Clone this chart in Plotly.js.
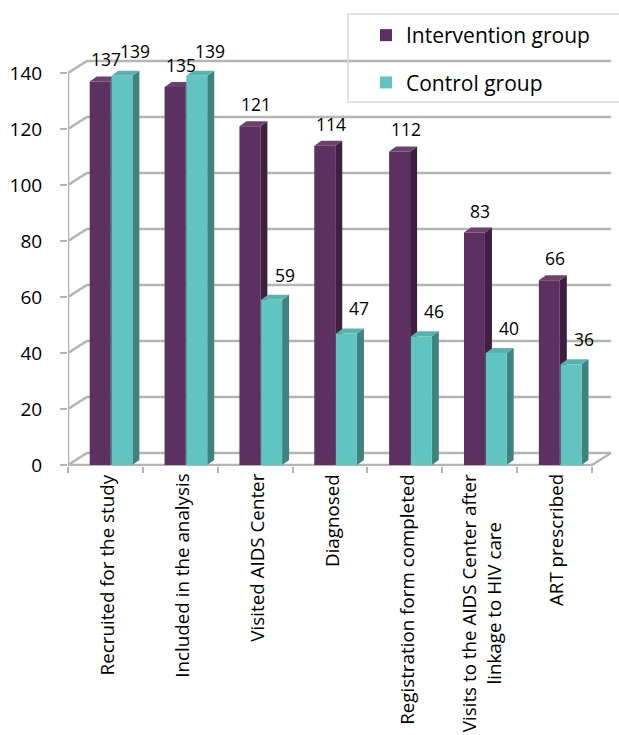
<!DOCTYPE html>
<html>
<head>
<meta charset="utf-8">
<script src="https://cdn.plot.ly/plotly-3.0.1.min.js"></script>
<style>
  html, body { margin: 0; padding: 0; background: #fff; }
  #chart { width: 619px; height: 735px; }
</style>
</head>
<body>
<div id="chart"></div>
<script>
// Category labels and counts per group
const categories = [
  'Recruited for the study',
  'Included in the analysis',
  'Visited AIDS Center',
  'Diagnosed',
  'Registration form completed',
  'Visits to the AIDS Center after<br>linkage to HIV care',
  'ART prescribed'
];
const intervention = [137, 135, 121, 114, 112, 83, 66];
const control = [139, 139, 59, 47, 46, 40, 36];
const yTicks = [0, 20, 40, 60, 80, 100, 120, 140];
const seriesNames = ['Intervention group', 'Control group'];

const FONT = '"Open Sans", sans-serif';

// Look of each series: front face, side face, top face
const styles = [
  { front: '#5C3060', side: '#3D1F3F', top: '#6E4070', offset: 0.29, labelDx: 6, labelDy: 22 },
  { front: '#62C4C0', side: '#3E8380', top: '#57B3AF', offset: 0.58, labelDx: 13, labelDy: 25 }
];
const BAR_W = 0.28;

// Plot geometry
const W = 619, H = 735;
const M = { l: 68, r: 4, t: 20, b: 269 };
const plotW = W - M.l - M.r;
const plotH = H - M.t - M.b;
const pxPerCat = 524 / categories.length;   // px per category slot
const pxPerUnit = 2.8;                      // px per count
const xMax = plotW / pxPerCat;
const yMin = -1 / pxPerUnit;
const yMax = yMin + plotH / pxPerUnit;

// Depth offsets for the pseudo-3D look (in data units)
const barDx = 7 / pxPerCat, barDy = 5 / pxPerUnit;
const wallDx = 19 / pxPerCat, wallDy = 12 / pxPerUnit;
const nCat = categories.length;
const idx = categories.map((_, i) => i);
const gridColor = '#B5B5B5';

const shapes = [];
// back-wall gridlines with their diagonal ties to the value axis
yTicks.forEach(v => {
  shapes.push({
    type: 'path', xref: 'x', yref: 'y', layer: 'below',
    path: `M0,${v} L${wallDx},${v + wallDy} L${nCat + wallDx},${v + wallDy}`,
    line: { color: gridColor, width: 2.5 }
  });
});
// floor front and right edges, value axis line
shapes.push({
  type: 'path', xref: 'x', yref: 'y', layer: 'below',
  path: `M0,0 L${nCat},0 L${nCat + wallDx},${wallDy}`,
  line: { color: gridColor, width: 2.5 }
});
shapes.push({
  type: 'line', xref: 'x', yref: 'y', layer: 'below',
  x0: 0, x1: 0, y0: 0, y1: yTicks[yTicks.length - 1],
  line: { color: gridColor, width: 2.5 }
});

// side and top faces of every bar (front faces are the bar traces)
[intervention, control].forEach((vals, s) => {
  const st = styles[s];
  vals.forEach((v, i) => {
    const x0 = i + st.offset, x1 = x0 + BAR_W;
    shapes.push({
      type: 'path', xref: 'x', yref: 'y', layer: 'below',
      path: `M${x1},0 L${x1 + barDx},${barDy} L${x1 + barDx},${v + barDy} L${x1},${v} Z`,
      fillcolor: st.side, line: { width: 0 }
    });
    shapes.push({
      type: 'path', xref: 'x', yref: 'y', layer: 'below',
      path: `M${x0},${v} L${x0 + barDx},${v + barDy} L${x1 + barDx},${v + barDy} L${x1},${v} Z`,
      fillcolor: st.top, line: { width: 0 }
    });
  });
});

// legend frame
shapes.push({
  type: 'rect', xref: 'paper', yref: 'paper',
  x0: (348 - M.l) / plotW, x1: (625 - M.l) / plotW,
  y0: 1 - (102 - M.t) / plotH, y1: 1 - (14 - M.t) / plotH,
  line: { color: '#D9D9D9', width: 1.5 }, fillcolor: 'rgba(0,0,0,0)'
});

const annotations = [];
// value labels above the bars
[intervention, control].forEach((vals, s) => {
  const st = styles[s];
  vals.forEach((v, i) => {
    annotations.push({
      xref: 'x', yref: 'y', x: i + st.offset + BAR_W / 2, y: v,
      text: String(v), showarrow: false,
      xanchor: 'center', yanchor: 'middle',
      xshift: st.labelDx, yshift: st.labelDy,
      font: { family: FONT, size: 17.5, color: '#000' }
    });
  });
});
// rotated category labels
categories.forEach((c, i) => {
  annotations.push({
    xref: 'x', yref: 'paper', x: i + 0.52, y: 0,
    text: c, showarrow: false, textangle: -90,
    xanchor: 'center', yanchor: 'top', yshift: -6, align: 'center',
    font: { family: FONT, size: 18.8, color: '#000' }
  });
});

const traces = [intervention, control].map((vals, s) => ({
  type: 'bar',
  name: seriesNames[s],
  legendgroup: 'g' + s,
  x: idx,
  y: vals,
  width: BAR_W,
  offset: styles[s].offset,
  marker: { color: styles[s].front, line: { width: 0 } },
  hoverinfo: 'skip'
}));

const layout = {
  width: W, height: H,
  margin: M,
  paper_bgcolor: '#fff', plot_bgcolor: '#fff',
  font: { family: FONT, size: 17, color: '#000' },
  showlegend: true,
  legend: {
    x: (366 - M.l) / plotW, xanchor: 'left',
    y: 1 - (15 - M.t) / plotH, yanchor: 'top',
    bgcolor: 'rgba(0,0,0,0)', borderwidth: 0,
    tracegroupgap: 17,
    font: { family: FONT, size: 21, color: '#000' }
  },
  xaxis: {
    type: 'linear', range: [0, xMax], fixedrange: true,
    showgrid: false, zeroline: false, showline: false,
    showticklabels: false, ticks: '',
    minor: { tickvals: idx.concat([nCat]), ticks: 'outside', ticklen: 6, tickwidth: 2, tickcolor: gridColor, showgrid: false }
  },
  yaxis: {
    range: [yMin, yMax], fixedrange: true,
    showgrid: false, zeroline: false, showline: false,
    tickvals: yTicks, ticks: 'outside', ticklen: 7, tickwidth: 2, tickcolor: gridColor,
    ticklabelstandoff: 14,
    tickfont: { family: FONT, size: 19, color: '#000' }
  },
  shapes: shapes,
  annotations: annotations
};

Plotly.newPlot('chart', traces, layout, { staticPlot: true, displayModeBar: false });
</script>
</body>
</html>
